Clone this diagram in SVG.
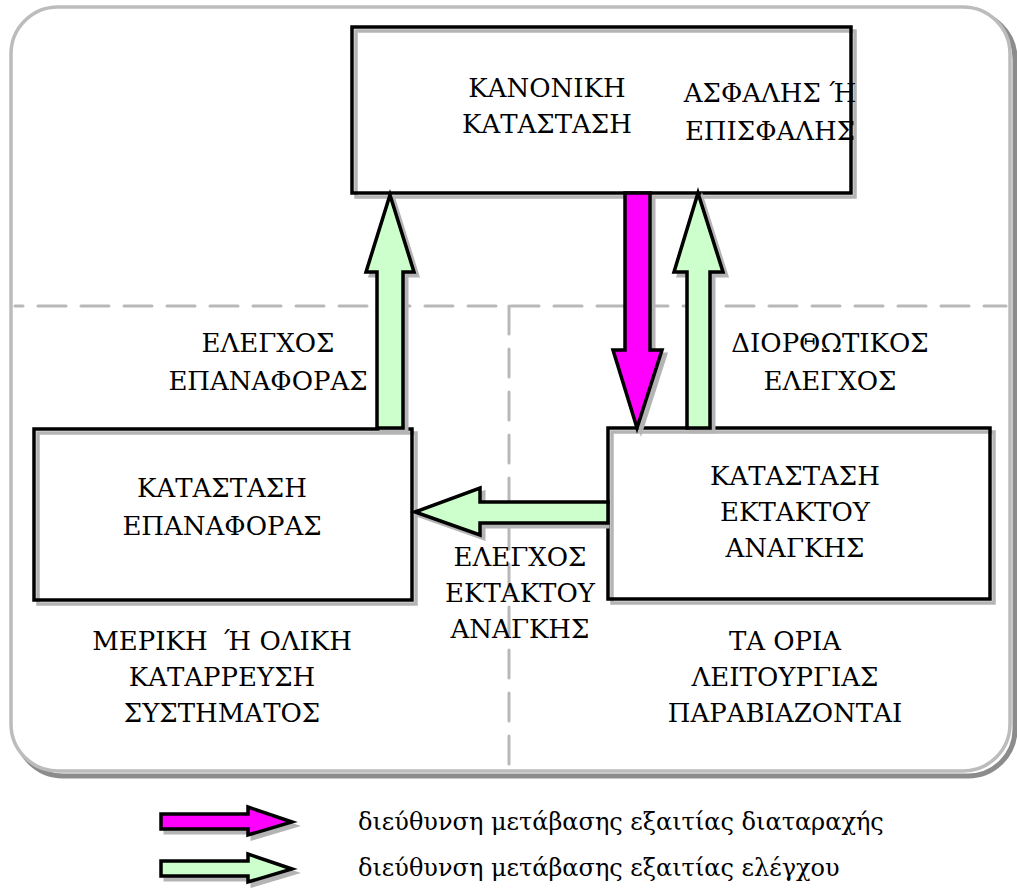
<svg xmlns="http://www.w3.org/2000/svg" width="1017" height="888" viewBox="0 0 1017 888">
<style>
.t{font-family:"DejaVu Serif","Liberation Serif",serif;font-size:26px;fill:#000;text-anchor:middle}
.lg{font-family:"DejaVu Serif","Liberation Serif",serif;font-size:24px;fill:#000}
.box{fill:none;stroke:#000;stroke-width:3.5}
.bsh{fill:none;stroke:#b4b4b4;stroke-width:3.5}
.ash{fill:#b4b4b4;stroke:#b4b4b4;stroke-width:3;stroke-linejoin:miter}
.arr{stroke:#000;stroke-width:3.5;stroke-linejoin:miter}
.mag{fill:#ff00ff}
.grn{fill:#ccffcc}
.dash{stroke:#b8b8b8;stroke-width:3;stroke-dasharray:28 15;stroke-linecap:round;fill:none}
</style>
<defs>
<polygon id="legArr" points="161,814 248,814 248,807 292,822 248,835 248,829 161,829"/>
</defs>
<g id="frame">
<rect x="16" y="12" width="999" height="764" rx="47" fill="none" stroke="#8c8c8c" stroke-width="5"/>
<rect x="11" y="7" width="999" height="764" rx="47" fill="#fff" stroke="#bcbcbc" stroke-width="3.5"/>
<line class="dash" x1="15" y1="306" x2="1006" y2="306" stroke-dashoffset="20"/>
<line class="dash" x1="509" y1="306" x2="509" y2="768"/>
</g>
<g id="node-normal">
<rect class="bsh" x="356" y="31" width="499" height="166"/>
<rect class="box" x="352" y="27" width="499" height="166"/>
<text class="t" x="547" y="97">ΚΑΝΟΝΙΚΗ</text>
<text class="t" x="547" y="133">ΚΑΤΑΣΤΑΣΗ</text>
</g>
<g id="label-safe">
<text class="t" x="770" y="102">ΑΣΦΑΛΗΣ Ή</text>
<text class="t" x="770" y="140">ΕΠΙΣΦΑΛΗΣ</text>
</g>
<g id="node-restore">
<rect class="bsh" x="38" y="433" width="378" height="171"/>
<rect class="box" x="34" y="429" width="378" height="171"/>
<text class="t" x="222" y="497">ΚΑΤΑΣΤΑΣΗ</text>
<text class="t" x="222" y="535">ΕΠΑΝΑΦΟΡΑΣ</text>
</g>
<g id="node-emergency">
<rect class="bsh" x="612" y="432" width="382" height="171"/>
<rect class="box" x="608" y="428" width="382" height="171"/>
<text class="t" x="795" y="485">ΚΑΤΑΣΤΑΣΗ</text>
<text class="t" x="795" y="521">ΕΚΤΑΚΤΟΥ</text>
<text class="t" x="795" y="557">ΑΝΑΓΚΗΣ</text>
</g>
<g id="connectors">
<g transform="translate(4,4)">
<polygon class="ash" points="625,193 650,193 650,350 662,350 637,428 613,350 625,350"/>
<polygon class="ash" points="698,193 723,272 710,272 710,428 687,428 687,272 674,272"/>
<polygon class="ash" points="390,195 414,272 403,272 403,428 377,428 377,272 366,272"/>
<polygon class="ash" points="415,512 480,488 480,502 604,502 604,523 480,523 480,535"/>
</g>
<polygon class="arr mag" points="625,193 650,193 650,350 662,350 637,428 613,350 625,350"/>
<polygon class="arr grn" points="698,193 723,272 710,272 710,428 687,428 687,272 674,272"/>
<polygon class="arr grn" points="390,195 414,272 403,272 403,428 377,428 377,272 366,272"/>
<polygon class="arr grn" points="415,512 480,488 480,502 608,502 608,523 480,523 480,535"/>
</g>
<g id="labels">
<text class="t" x="268" y="352">ΕΛΕΓΧΟΣ</text>
<text class="t" x="268" y="390">ΕΠΑΝΑΦΟΡΑΣ</text>
<text class="t" x="830" y="352">ΔΙΟΡΘΩΤΙΚΟΣ</text>
<text class="t" x="830" y="390">ΕΛΕΓΧΟΣ</text>
<text class="t" x="520" y="566">ΕΛΕΓΧΟΣ</text>
<text class="t" x="520" y="602">ΕΚΤΑΚΤΟΥ</text>
<text class="t" x="520" y="638">ΑΝΑΓΚΗΣ</text>
<text class="t" x="222" y="650">ΜΕΡΙΚΗ &#160;Ή ΟΛΙΚΗ</text>
<text class="t" x="222" y="686">ΚΑΤΑΡΡΕΥΣΗ</text>
<text class="t" x="222" y="722">ΣΥΣΤΗΜΑΤΟΣ</text>
<text class="t" x="785" y="650">ΤΑ ΟΡΙΑ</text>
<text class="t" x="785" y="686">ΛΕΙΤΟΥΡΓΙΑΣ</text>
<text class="t" x="785" y="722">ΠΑΡΑΒΙΑΖΟΝΤΑΙ</text>
</g>
<g id="legend">
<use href="#legArr" transform="translate(4,4)" class="ash"/>
<use href="#legArr" class="arr mag"/>
<use href="#legArr" transform="translate(4,51)" class="ash"/>
<use href="#legArr" transform="translate(0,47)" class="arr grn"/>
<text class="lg" x="358" y="830">διεύθυνση μετάβασης εξαιτίας διαταραχής</text>
<text class="lg" x="358" y="876">διεύθυνση μετάβασης εξαιτίας ελέγχου</text>
</g>
</svg>
